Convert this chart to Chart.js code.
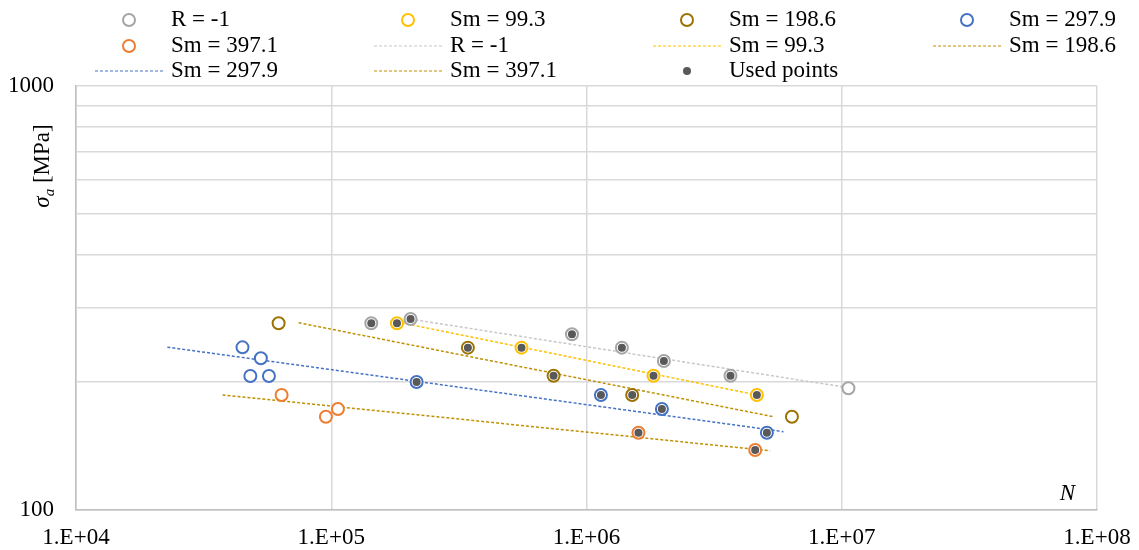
<!DOCTYPE html>
<html>
<head>
<meta charset="utf-8">
<script src="https://cdn.jsdelivr.net/npm/chart.js@4.4.1/dist/chart.umd.min.js"></script>
<style>
  html, body { margin: 0; padding: 0; background: #fff; }
</style>
</head>
<body>
<canvas id="myChart" width="1139" height="550"></canvas>
<script>
// cycles to failure (N) and stress amplitude (MPa) for each mean stress
var seriesNames = ['R = -1', 'Sm = 99.3', 'Sm = 198.6', 'Sm = 297.9', 'Sm = 397.1'];

var cyclesR1 = [1.435e5, 2.045e5, 8.77e5, 1.376e6, 2.01e6, 3.665e6, 1.062e7];
var stressR1 = [275.2, 281.7, 259.3, 241.1, 224.2, 207.0, 193.3];
var usedR1 = [1, 1, 1, 1, 1, 1, 0];

var cycles99 = [1.809e5, 5.565e5, 1.83e6, 4.65e6];
var stress99 = [275.2, 241.1, 207.0, 186.4];
var used99 = [1, 1, 1, 1];

var cycles198 = [6.22e4, 3.43e5, 7.43e5, 1.51e6, 6.38e6];
var stress198 = [275.2, 241.1, 207.0, 186.4, 165.6];
var used198 = [0, 1, 1, 1, 0];

var cycles297 = [4.49e4, 5.30e4, 4.82e4, 5.70e4, 2.16e5, 1.139e6, 1.974e6, 5.09e6];
var stress297 = [241.5, 227.5, 206.7, 206.7, 200.0, 186.4, 172.7, 151.8];
var used297 = [0, 0, 0, 0, 1, 1, 1, 1];

var cycles397 = [6.39e4, 1.062e5, 9.53e4, 1.598e6, 4.58e6];
var stress397 = [186.4, 172.7, 165.6, 151.8, 138.2];
var used397 = [0, 0, 0, 1, 1];

// fitted power-law lines, start and end of each
var trendCycles = [[2.04e5, 1.0e7], [1.809e5, 4.9e6], [7.45e4, 5.4e6], [2.28e4, 5.91e6], [3.75e4, 5.24e6]];
var trendStress = [[281.6, 195.0], [277.3, 185.2], [276.1, 165.6], [241.7, 152.7], [186.4, 137.6]];

var xTicks = [1e4, 1e5, 1e6, 1e7, 1e8];
var yTicks = [100, 200, 300, 400, 500, 600, 700, 800, 900, 1000];
var yLabels = [100, 1000];

var markColors = ['#A5A5A5', '#FFC000', '#9C7300', '#4472C4', '#ED7D31'];
var lineColors = ['#C8C8C8', '#FFC000', '#BF9000', '#4472C4', '#BF9000'];
var usedColor = '#595959';
var FONT = 'Liberation Serif';

function pts(xs, ys) {
    return xs.map(function (x, i) { return { x: x, y: ys[i] }; });
}

var allCycles = [cyclesR1, cycles99, cycles198, cycles297, cycles397];
var allStress = [stressR1, stress99, stress198, stress297, stress397];
var allUsed = [usedR1, used99, used198, used297, used397];

var datasets = [];
seriesNames.forEach(function (name, i) {
    datasets.push({
        label: name,
        kind: 'marker',
        data: pts(allCycles[i], allStress[i]),
        showLine: false,
        pointRadius: 6,
        pointBorderWidth: 2,
        pointBorderColor: markColors[i],
        pointBackgroundColor: '#ffffff',
        order: 1
    });
});
seriesNames.forEach(function (name, i) {
    datasets.push({
        label: name,
        kind: 'line',
        data: pts(trendCycles[i], trendStress[i]),
        showLine: true,
        borderColor: lineColors[i],
        borderWidth: 1.5,
        borderDash: [3, 2],
        pointRadius: 0,
        order: 2
    });
});

var usedPts = [];
allCycles.forEach(function (xs, i) {
    xs.forEach(function (x, j) {
        if (allUsed[i][j]) usedPts.push({ x: x, y: allStress[i][j] });
    });
});
datasets.push({
    label: 'Used points',
    kind: 'used',
    data: usedPts,
    showLine: false,
    pointRadius: 4,
    pointBorderWidth: 0,
    pointBackgroundColor: usedColor,
    pointBorderColor: usedColor,
    order: 0
});

// legend laid out as a 4-column grid above the plot
var legendGrid = {
    id: 'legendGrid',
    afterDraw: function (chart) {
        var ctx = chart.ctx;
        var colText = [171, 450, 729, 1009];
        var rowY = [20, 46, 71];
        ctx.save();
        ctx.font = '23px "' + FONT + '"';
        ctx.textBaseline = 'middle';
        ctx.fillStyle = '#000';
        chart.data.datasets.forEach(function (ds, i) {
            var tx = colText[i % 4];
            var ty = rowY[Math.floor(i / 4)];
            if (ds.kind === 'marker') {
                ctx.beginPath();
                ctx.arc(tx - 42, ty, 6, 0, Math.PI * 2);
                ctx.lineWidth = 2;
                ctx.strokeStyle = ds.pointBorderColor;
                ctx.stroke();
            } else if (ds.kind === 'line') {
                ctx.beginPath();
                ctx.setLineDash([3, 2]);
                ctx.moveTo(tx - 76, ty);
                ctx.lineTo(tx - 8, ty);
                ctx.lineWidth = 1.2;
                ctx.strokeStyle = ds.borderColor;
                ctx.stroke();
                ctx.setLineDash([]);
            } else {
                ctx.beginPath();
                ctx.arc(tx - 42, ty, 4, 0, Math.PI * 2);
                ctx.fillStyle = usedColor;
                ctx.fill();
            }
            ctx.fillStyle = '#000';
            ctx.fillText(ds.label, tx, ty);
        });
        ctx.restore();
    }
};

// axis titles: sigma_a [MPa] on the left, N inside the lower right corner
var axisTitles = {
    id: 'axisTitles',
    afterDraw: function (chart) {
        var ctx = chart.ctx;
        var area = chart.chartArea;
        ctx.save();
        ctx.fillStyle = '#000';
        ctx.textBaseline = 'alphabetic';
        ctx.translate(42, 166);
        ctx.rotate(-Math.PI / 2);
        var big = '23px "' + FONT + '"';
        var bigI = 'italic 23px "' + FONT + '"';
        var sub = 'italic 15px "' + FONT + '"';
        ctx.font = bigI; var w1 = ctx.measureText('\u03c3').width;
        ctx.font = sub; var w2 = ctx.measureText('a').width;
        ctx.font = big; var w3 = ctx.measureText(' [MPa]').width;
        var x0 = -(w1 + w2 + w3) / 2;
        ctx.font = bigI; ctx.fillText('\u03c3', x0, 7);
        ctx.font = sub; ctx.fillText('a', x0 + w1, 12);
        ctx.font = big; ctx.fillText(' [MPa]', x0 + w1 + w2, 7);
        ctx.restore();

        ctx.save();
        ctx.font = 'italic 23px "' + FONT + '"';
        ctx.fillStyle = '#000';
        ctx.textAlign = 'right';
        ctx.textBaseline = 'alphabetic';
        ctx.fillText('N', area.right - 22, area.bottom - 10);
        ctx.restore();
    }
};

var ctx = document.getElementById('myChart').getContext('2d');
var myChart = new Chart(ctx, {
    type: 'scatter',
    data: { datasets: datasets },
    options: {
        responsive: false,
        animation: false,
        layout: { padding: { left: 0, top: 86, right: 42, bottom: 0 } },
        plugins: {
            legend: { display: false },
            tooltip: { enabled: false }
        },
        scales: {
            x: {
                type: 'logarithmic',
                min: 1e4,
                max: 1e8,
                afterBuildTicks: function (scale) {
                    scale.ticks = xTicks.map(function (v) { return { value: v }; });
                },
                afterFit: function (scale) {
                    scale.height = 40.5;
                    scale.paddingLeft = 0;
                    scale.paddingRight = 0;
                },
                ticks: {
                    autoSkip: false,
                    maxRotation: 0,
                    padding: 15,
                    color: '#000',
                    font: { family: FONT, size: 23 },
                    callback: function (v) {
                        var e = Math.round(Math.log10(v));
                        return '1.E+' + (e < 10 ? '0' : '') + e;
                    }
                },
                grid: { color: '#D9D9D9', lineWidth: 1.5, drawTicks: false },
                border: { color: '#BFBFBF', width: 1.5 }
            },
            y: {
                type: 'logarithmic',
                min: 100,
                max: 1000,
                afterBuildTicks: function (scale) {
                    scale.ticks = yTicks.map(function (v) { return { value: v }; });
                },
                afterFit: function (scale) {
                    scale.width = 76;
                    scale.paddingTop = 0;
                    scale.paddingBottom = 0;
                },
                ticks: {
                    autoSkip: false,
                    padding: 22,
                    color: '#000',
                    font: { family: FONT, size: 23 },
                    callback: function (v) {
                        return yLabels.indexOf(v) >= 0 ? String(v) : '';
                    }
                },
                grid: { color: '#D9D9D9', lineWidth: 1.5, drawTicks: false },
                border: { color: '#BFBFBF', width: 1.5 }
            }
        }
    },
    plugins: [legendGrid, axisTitles]
});
</script>
</body>
</html>
